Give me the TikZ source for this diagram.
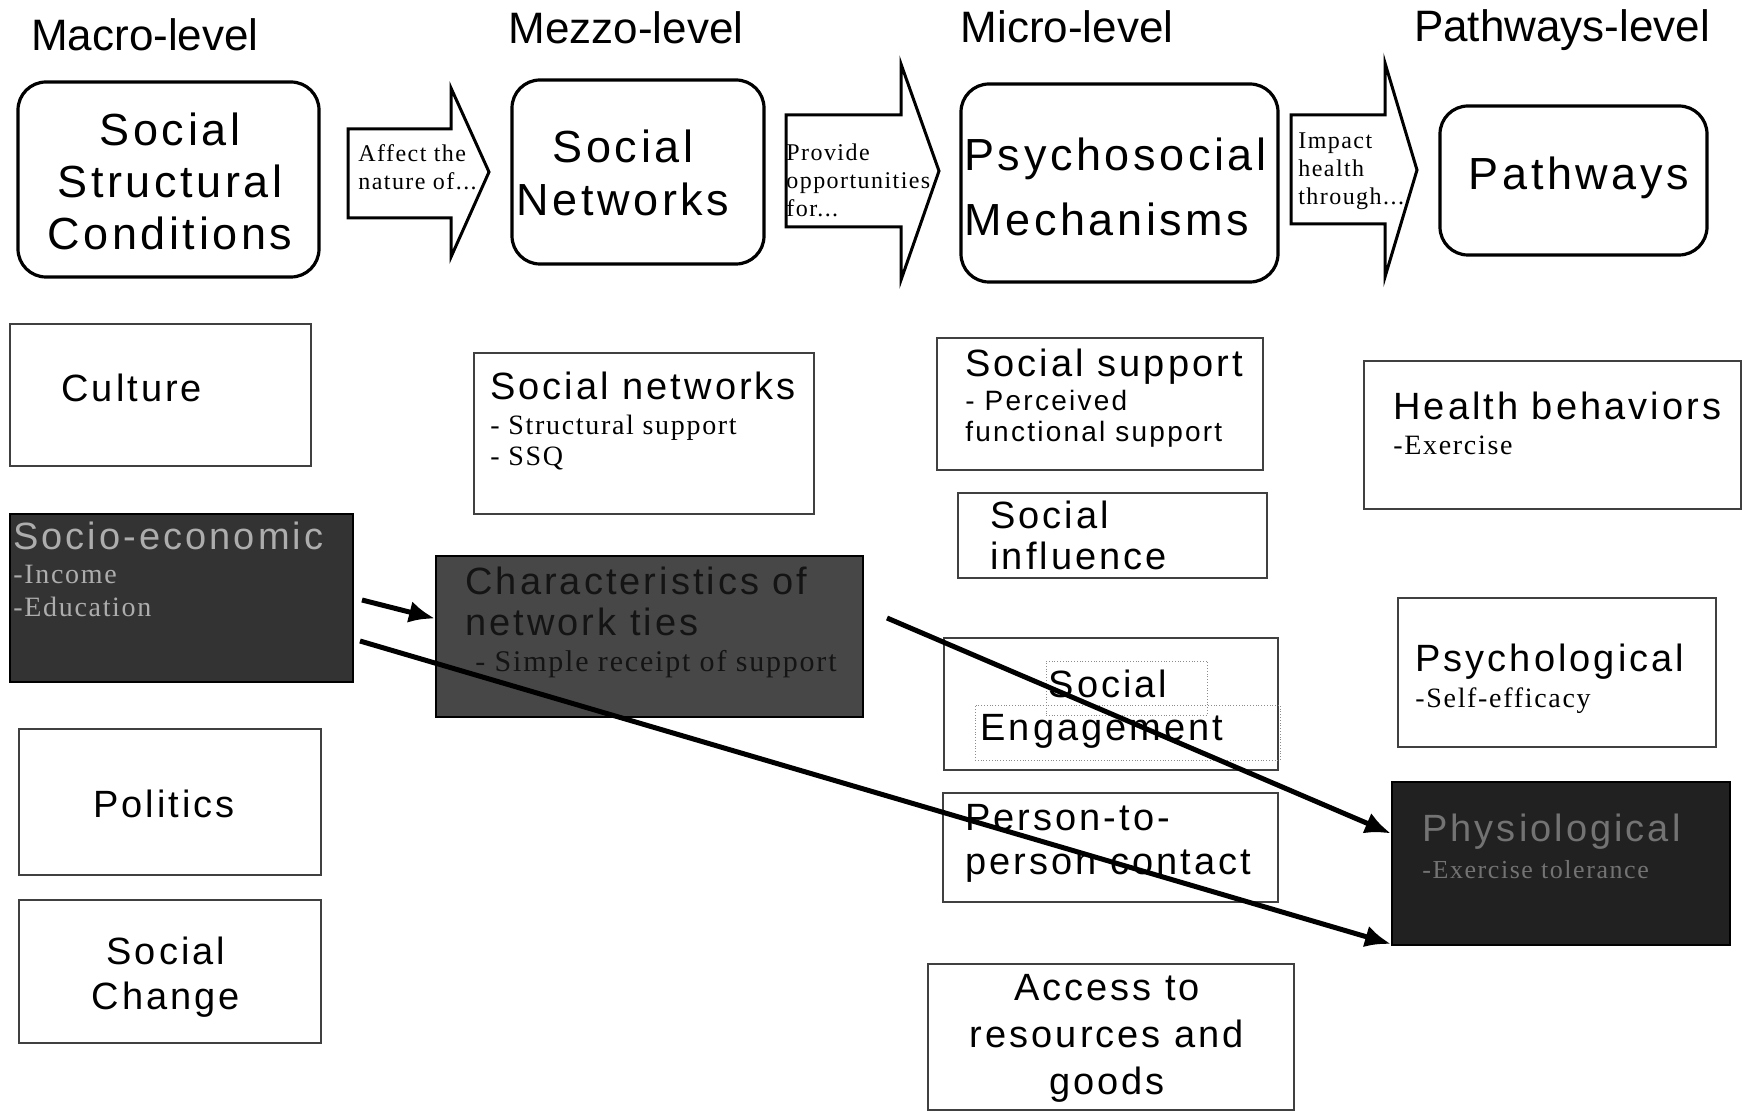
\documentclass[tikz,border=0pt]{standalone}
\usepackage{fontspec}
\setmainfont{Liberation Serif}
\newfontfamily\ars{Liberation Sans}[LetterSpace=8]
\newfontfamily\arn{Liberation Sans}
\newfontfamily\tms{Liberation Serif}[LetterSpace=6]
\usetikzlibrary{fit,calc,arrows.meta}
\newcommand\setfs[2]{\fontsize{#1}{#2}\selectfont}
\begin{document}
\begin{tikzpicture}[x=0.5pt,y=-0.5pt,
  rbox/.style={draw, line width=1.6pt, rounded corners=14pt, inner sep=0pt},
  pbox/.style={draw=black!75, line width=1pt, inner sep=0pt},
  dbox/.style={draw=black, line width=1pt, inner sep=0pt},
  dotbox/.style={draw=black!45, line width=0.4pt, densely dotted, inner sep=0pt},
  barrow/.style={draw, line width=1.5pt, line join=miter, fill=white},
  ttl/.style={font=\arn\setfs{22}{26}, inner sep=0pt},
  big/.style={font=\ars\setfs{22.5}{26}, align=center, inner sep=0pt},
  lbl/.style={font=\tms\setfs{12}{14}, align=left, anchor=west, inner sep=0pt},
  txt/.style={font=\ars\setfs{19}{20.5}, inner sep=0pt},
  sub/.style={font=\tms\setfs{14}{15.5}, align=left, anchor=west, inner sep=0pt},
  conn/.style={line width=2.5pt, -{Latex[length=13pt,width=11pt]}},
]
\useasboundingbox (0,0) rectangle (1753,1118);

% level titles
\node[ttl] (tmacro) at (145,35) {Macro-level};
\node[ttl] (tmezzo) at (626,28) {Mezzo-level};
\node[ttl] (tmicro) at (1067,27) {Micro-level};
\node[ttl] (tpath) at (1562,30) {Pathways-level};

% rounded boxes
\node[rbox, fit={(18,82) (319,277)}] (ssc) {};
\node[big] (sscT) at (170,181) {Social\\Structural\\Conditions};
\node[rbox, fit={(512,80) (764,264)}] (snw) {};
\node[big, font=\ars\setfs{22.5}{26.5}] (snwT) at (623,172.5) {Social\\Networks};
\node[rbox, fit={(961,84) (1278,282)}] (psm) {};
\node[big, align=left, anchor=west, font=\ars\setfs{22.5}{32.5}] (psmT) at (964,187) {Psychosocial\\Mechanisms};
\node[rbox, fit={(1440,106) (1707,255)}] (pth) {};
\node[big] (pthT) at (1579,178) {Pathways};

% block arrows
\draw[barrow] (348,129) -- (451,129) -- (451,88) -- (489,172) -- (451,257) -- (451,218) -- (348,218) -- cycle;
\draw[barrow] (786,115) -- (901,115) -- (901,64) -- (939,171) -- (901,280) -- (901,227) -- (786,227) -- cycle;
\draw[barrow] (1291,115) -- (1385,115) -- (1385,63) -- (1417,170) -- (1385,277) -- (1385,224) -- (1291,224) -- cycle;
\node[lbl] (l1) at (358,167) {Affect the\\nature of...};
\node[lbl] (l2) at (786,180) {Provide\\opportunities\\for...};
\node[lbl] (l3) at (1298,171) {Impact\\health\\through...};

% macro column
\node[pbox, fit={(10,324) (311,466)}] (cult) {};
\node[txt, anchor=west] (cultT) at (61,388) {Culture};
\node[dbox, fill=black!80, fit={(10,514) (353,682)}] (socio) {};
\node[txt, anchor=west, font=\ars\setfs{19}{22}, text=black!32] (socioT) at (13,536) {Socio-economic};
\node[sub, text=black!32, font=\tms\setfs{14}{16.5}] (socioS) at (13,591) {-Income\\-Education};
\node[pbox, fit={(19,729) (321,875)}] (pol) {};
\node[txt] (polT) at (164,804) {Politics};
\node[pbox, fit={(19,900) (321,1043)}] (sch) {};
\node[txt, align=center, font=\ars\setfs{19}{22.5}] (schT) at (166,977) {Social\\Change};

% mezzo column
\node[pbox, fit={(474,353) (814,514)}] (snet) {};
\node[txt, anchor=west] (snetT) at (490,386) {Social networks};
\node[sub] (snetS) at (490,442.5) {- Structural support\\- SSQ};
\node[dbox, fill=black!72, fit={(436,556) (863,717)}] (char) {};
\node[txt, anchor=west, align=left, text=black!92] (charT) at (465,601) {Characteristics of\\network ties};
\node[sub, text=black!92, font=\tms\setfs{15}{16}] (charS) at (475,664) {- Simple receipt of support};

% micro column
\node[pbox, fit={(937,338) (1263,470)}] (ssup) {};
\node[txt, anchor=west] (ssupT) at (965,367) {Social support};
\node[txt, anchor=west, align=left, font=\ars\setfs{14}{15.5}] (ssupS) at (965,419) {- Perceived\\functional support};
\node[pbox, fit={(958,493) (1267,578)}] (sinf) {};
\node[txt, anchor=west, align=left] (sinfT) at (990,535) {Social\\influence};
\node[pbox, fit={(944,638) (1278,770)}] (seng) {};
\node[dotbox, fit={(1046,661) (1207,715)}] (sengA) {};
\node[dotbox, fit={(975,705) (1280,760)}] (sengB) {};
\node[txt] (sengT1) at (1108,684) {Social};
\node[txt] (sengT2) at (1102,731) {Engagement};
\node[pbox, fit={(943,793) (1278,902)}] (p2p) {};
\node[txt, anchor=west, align=left, font=\ars\setfs{19}{22}] (p2pT) at (965,843) {Person-to-\\person contact};
\node[pbox, fit={(928,964) (1294,1110)}] (acc) {};
\node[txt, align=center, font=\ars\setfs{19}{23.5}] (accT) at (1107,1038) {Access to\\resources and\\goods};

% pathways column
\node[pbox, fit={(1364,361) (1741,509)}] (hb) {};
\node[txt, anchor=west] (hbT) at (1393,406) {Health behaviors};
\node[sub] (hbS) at (1393,445) {-Exercise};
\node[pbox, fit={(1398,598) (1716,747)}] (psy) {};
\node[txt, anchor=west] (psyT) at (1415,662) {Psychological};
\node[sub] (psyS) at (1415,701) {-Self-efficacy};
\node[dbox, fill=black!87, fit={(1392,782) (1730,945)}] (phys) {};
\node[txt, anchor=west, text=black!55] (physT) at (1422,832) {Physiological};
\node[sub, text=black!55, font=\tms\setfs{13}{15}] (physS) at (1422,870) {-Exercise tolerance};

% connectors
\coordinate (s1) at (362,600);
\coordinate (s2) at (360,641);
\coordinate (s3) at (887,618);
\draw[conn] (s1) -- ($(char.west)+(0,-18)$);
\draw[conn] (s3) -- ($(phys.west)+(0,-30)$);
\draw[conn] (s2) -- ($(phys.south west)+(0,-2)$);
\end{tikzpicture}
\end{document}
